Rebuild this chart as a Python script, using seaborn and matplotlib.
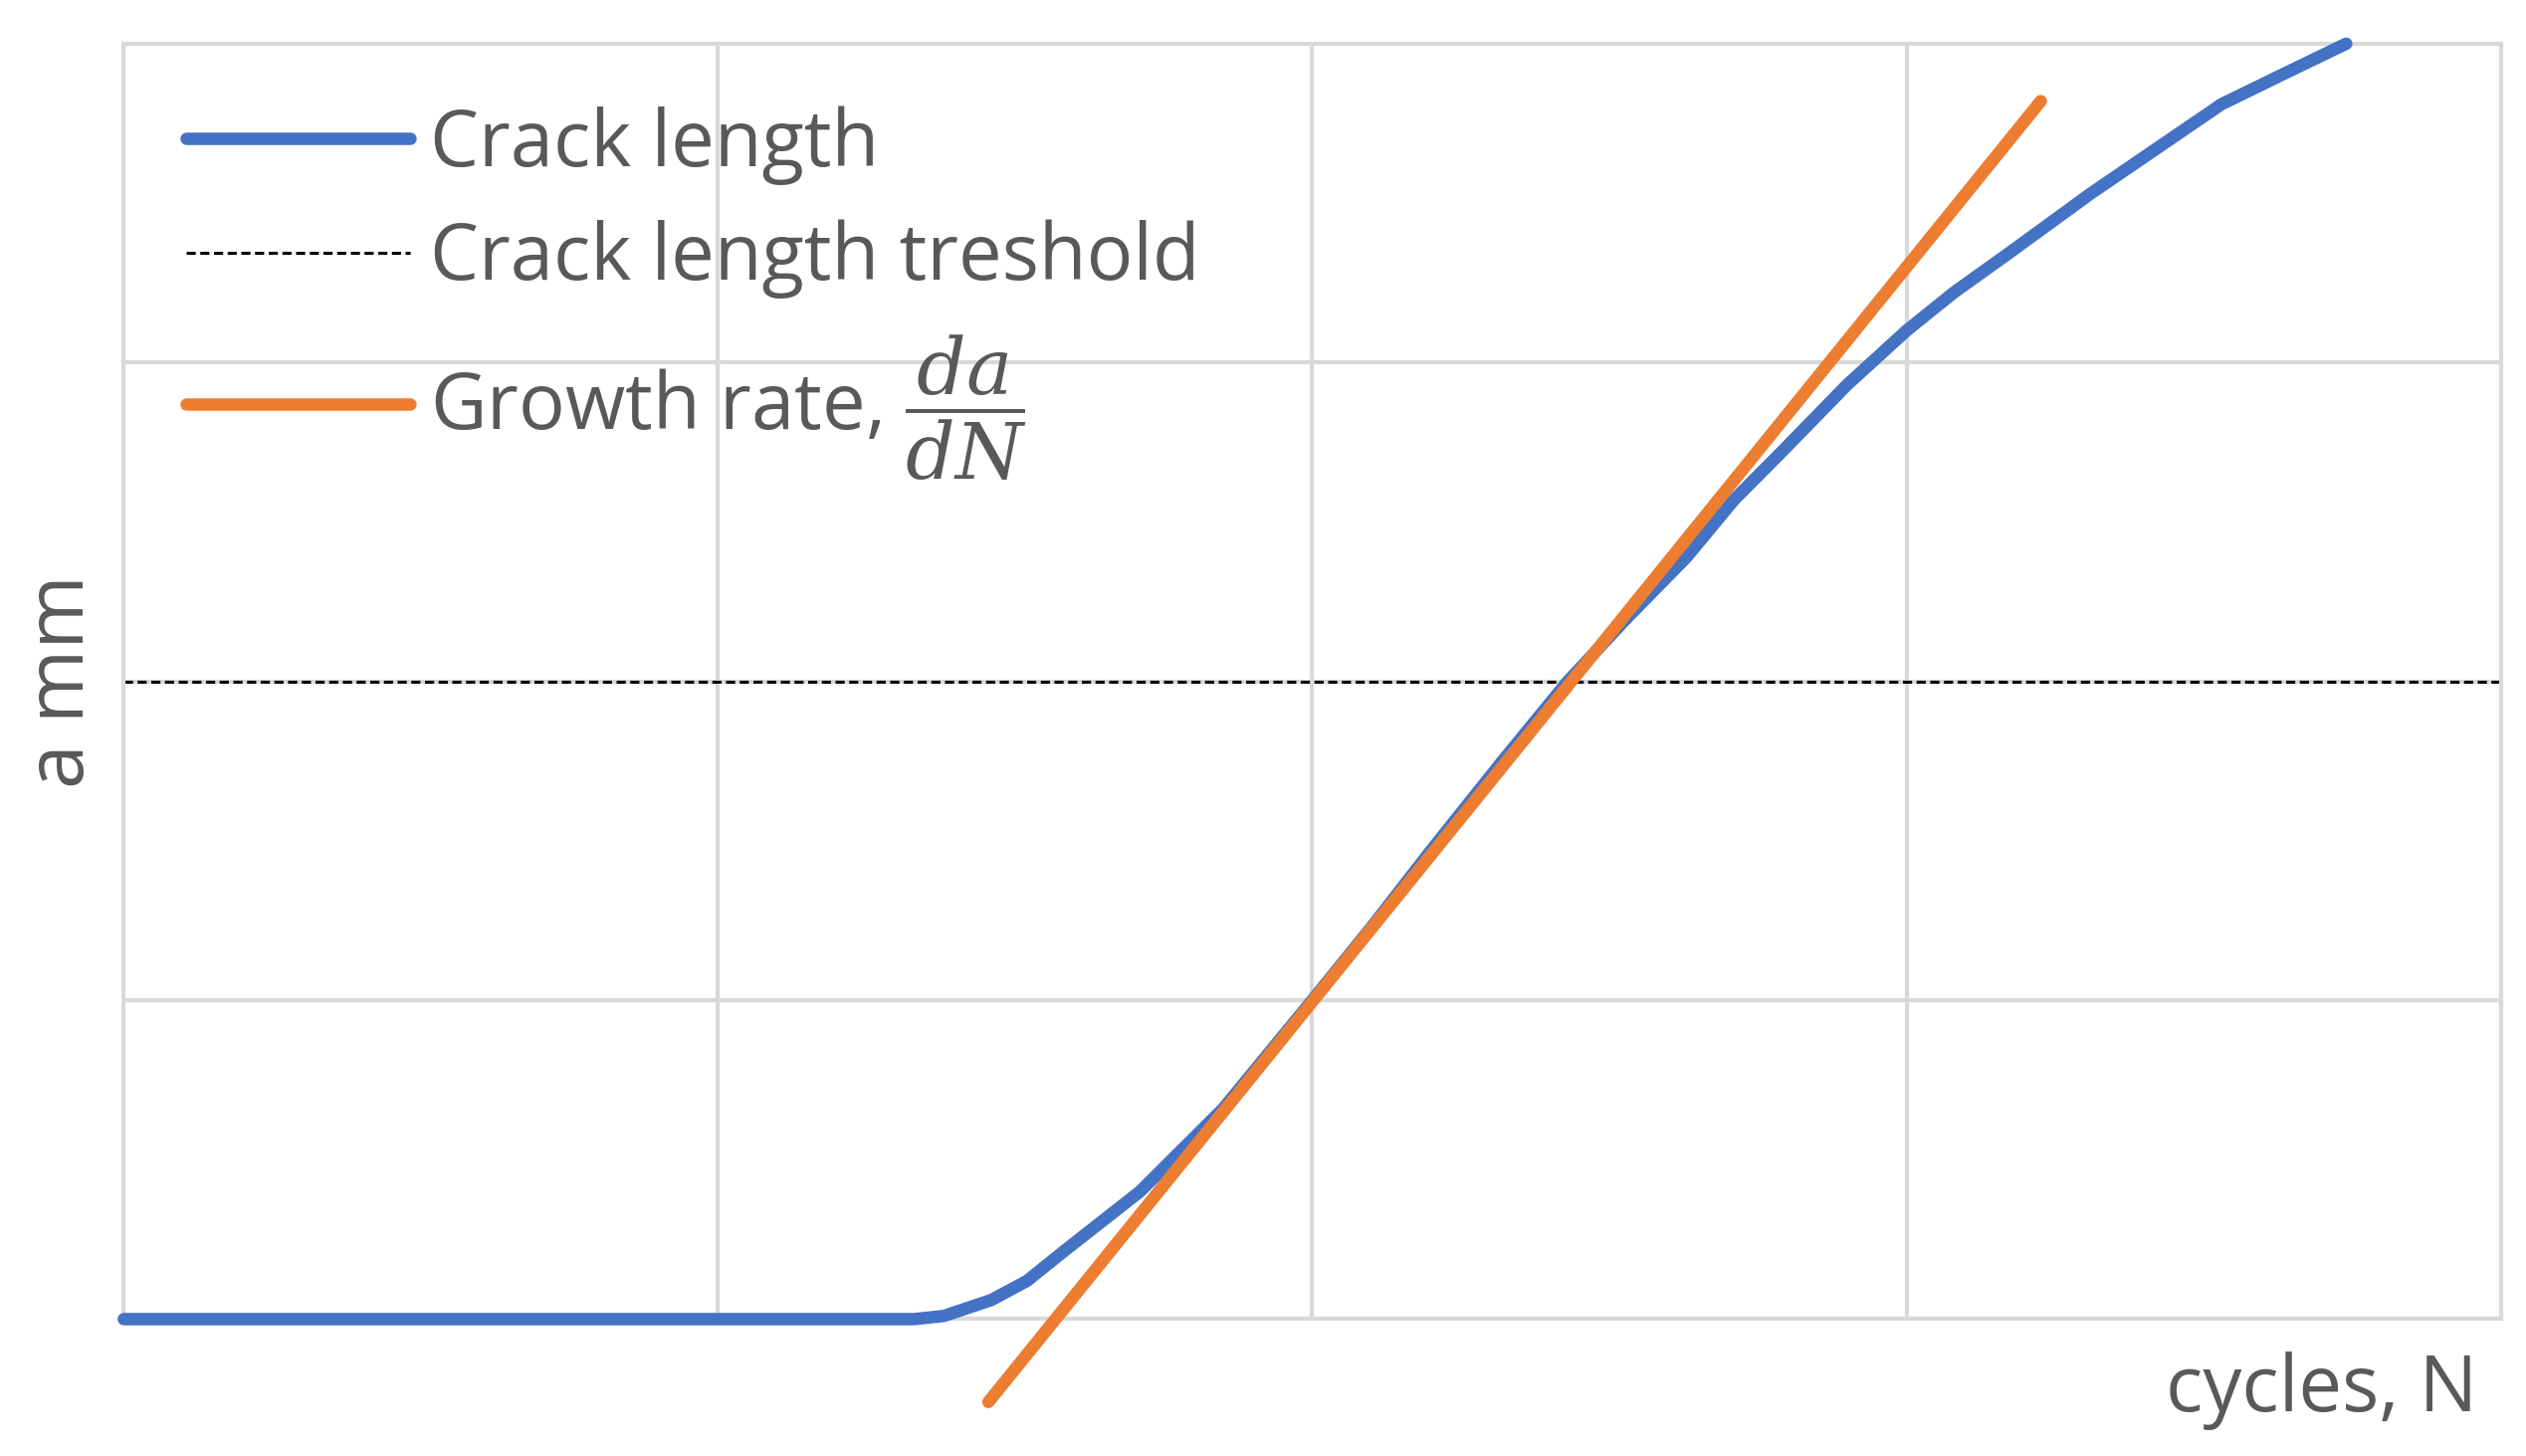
import matplotlib
matplotlib.use("Agg")
import matplotlib.pyplot as plt
import seaborn as sns
import pandas as pd

# crack length curve (grid units)
cycles = [0.0, 1.0, 1.33, 1.38, 1.46, 1.52, 1.58, 1.71, 1.85, 2.0, 2.1, 2.2, 2.32, 2.43,
          2.53, 2.63, 2.71, 2.79, 2.9, 3.0, 3.08, 3.17, 3.31, 3.42, 3.53, 3.64, 3.74]
crack = [0.0, 0.0, 0.0, 0.01, 0.06, 0.12, 0.21, 0.4, 0.66, 1.0, 1.23, 1.47, 1.75, 2.0,
         2.2, 2.39, 2.57, 2.72, 2.93, 3.1, 3.22, 3.34, 3.53, 3.67, 3.81, 3.91, 4.0]

# tangent line (growth rate) end points
rate_x = [1.455, 3.226]
rate_y = [-0.26, 3.82]

threshold = 2.0

sns.set_theme(style="white")
plt.rcParams['font.family'] = ['Open Sans', 'DejaVu Sans']
plt.rcParams['mathtext.fontset'] = 'dejavuserif'
grey_text = "#595959"

fig = plt.figure(figsize=(25.38, 14.63), dpi=100)
ax = fig.add_axes([0.049, 0.094, 0.941, 0.876])

df = pd.DataFrame({"N": cycles, "a": crack})
sns.lineplot(data=df, x="N", y="a", ax=ax, color="#4472C4", linewidth=9,
             label="Crack length", clip_on=False, zorder=3)
ax.axhline(threshold, color="black", linestyle=(0, (3, 1.5)), linewidth=2.2,
           label="Crack length treshold", zorder=2)
sns.lineplot(x=rate_x, y=rate_y, ax=ax, color="#ED7D31", linewidth=9,
             label=r"Growth rate, $\dfrac{da}{dN}$", clip_on=False, zorder=4)

ax.set_xlim(0, 4)
ax.set_ylim(0, 4)
ax.set_xticks([0, 1, 2, 3, 4])
ax.set_yticks([0, 1, 2, 3, 4])
ax.set_xticklabels([])
ax.set_yticklabels([])
ax.tick_params(length=0)
ax.grid(True, color="#D9D9D9", linewidth=3)
for s in ax.spines.values():
    s.set_color("#D9D9D9")
    s.set_linewidth(3)

ax.set_xlabel("")
ax.set_ylabel("a mm", fontsize=58, color=grey_text, labelpad=12)
ax.text(0.99, -0.025, "cycles, N", transform=ax.transAxes, ha="right", va="top",
        fontsize=56, color=grey_text)

leg = ax.legend(loc="upper left", fontsize=56, frameon=False, handlelength=2.9,
                handletextpad=0.25, borderaxespad=0.5, labelspacing=0.45,
                borderpad=0.3)
for t in leg.get_texts():
    t.set_color(grey_text)

fig.savefig("out.png", dpi=100)
